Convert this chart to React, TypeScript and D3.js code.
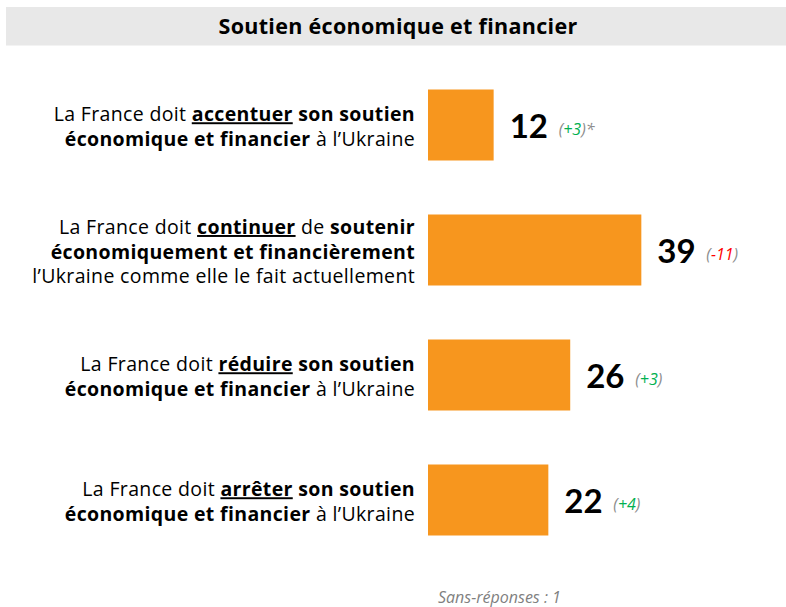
import React from "react";
import * as d3 from "d3";

type Seg = { t: string; b?: boolean; u?: boolean };

const title = "Soutien économique et financier";
const footnote = "Sans-réponses : 1";

const categories: Seg[][][] = [
  [
    [{ t: "La France doit " }, { t: "accentuer", b: true, u: true }, { t: " son soutien", b: true }],
    [{ t: "économique et financier", b: true }, { t: " à l’Ukraine" }],
  ],
  [
    [{ t: "La France doit " }, { t: "continuer", b: true, u: true }, { t: " de " }, { t: "soutenir", b: true }],
    [{ t: "économiquement et financièrement", b: true }],
    [{ t: "l’Ukraine comme elle le fait actuellement" }],
  ],
  [
    [{ t: "La France doit " }, { t: "réduire", b: true, u: true }, { t: " son soutien", b: true }],
    [{ t: "économique et financier", b: true }, { t: " à l’Ukraine" }],
  ],
  [
    [{ t: "La France doit " }, { t: "arrêter", b: true, u: true }, { t: " son soutien", b: true }],
    [{ t: "économique et financier", b: true }, { t: " à l’Ukraine" }],
  ],
];

const values = [12, 39, 26, 22];
const changes = ["+3", "-11", "+3", "+4"];
const changeSuffix = ["*", "", "", ""];

const W = 786;
const H = 607;
const FONT = "'Open Sans', 'Noto Sans', sans-serif";
const NUMFONT = "Lato, 'Open Sans', sans-serif";

export default function App() {
  const x0 = 428;
  const x = d3.scaleLinear().domain([0, 100]).range([0, 547]);
  const y = d3
    .scalePoint<number>()
    .domain(values.map((_, i) => i))
    .range([125, 500]);
  const barH = 71;
  const lineH = 24.5;

  return (
    <svg
      width={W}
      height={H}
      style={{ position: "absolute", left: 0, top: 0, background: "#fff" }}
      fontFamily={FONT}
    >
      <rect x={6} y={7} width={W - 6} height={38.5} fill="#e8e8e8" />
      <text x={398} y={33.5} textAnchor="middle" fontSize={21.5} fontWeight={700} letterSpacing={0.3} fill="#000">
        {title}
      </text>

      {values.map((v, i) => {
        const cy = y(i) as number;
        const lines = categories[i];
        const n = lines.length;
        const dy = 8.5;
        const xe = x0 + x(v);
        const ch = changes[i];
        const chColor = ch.startsWith("-") ? "#ff0000" : "#00b050";
        return (
          <g key={i}>
            <rect x={x0} y={cy - barH / 2} width={x(v)} height={barH} fill="#f7961e" />
            {lines.map((segs, j) => (
              <text
                key={j}
                x={415}
                y={cy + (j - (n - 1) / 2) * lineH + dy}
                textAnchor="end"
                fontSize={19.5}
                letterSpacing={0.35}
                fill="#000"
                style={{ whiteSpace: "pre" }}
              >
                {segs.map((s, k) => (
                  <tspan
                    key={k}
                    fontWeight={s.b ? 700 : 400}
                    style={s.u ? { textDecoration: "underline" } : undefined}
                  >
                    {s.t}
                  </tspan>
                ))}
              </text>
            ))}
            <text x={xe + 16} y={cy + 12.5} fontSize={33} fontWeight={700} fill="#000" fontFamily={NUMFONT}>
              {v}
            </text>
            <text x={xe + 65} y={cy + 9.5} fontSize={16} fontStyle="italic" fill="#8c8c8c">
              <tspan>(</tspan>
              <tspan fill={chColor}>{ch}</tspan>
              <tspan>)</tspan>
              <tspan>{changeSuffix[i]}</tspan>
            </text>
          </g>
        );
      })}

      <text x={438} y={603} fontSize={16} fontStyle="italic" fill="#7f7f7f">
        {footnote}
      </text>
    </svg>
  );
}
